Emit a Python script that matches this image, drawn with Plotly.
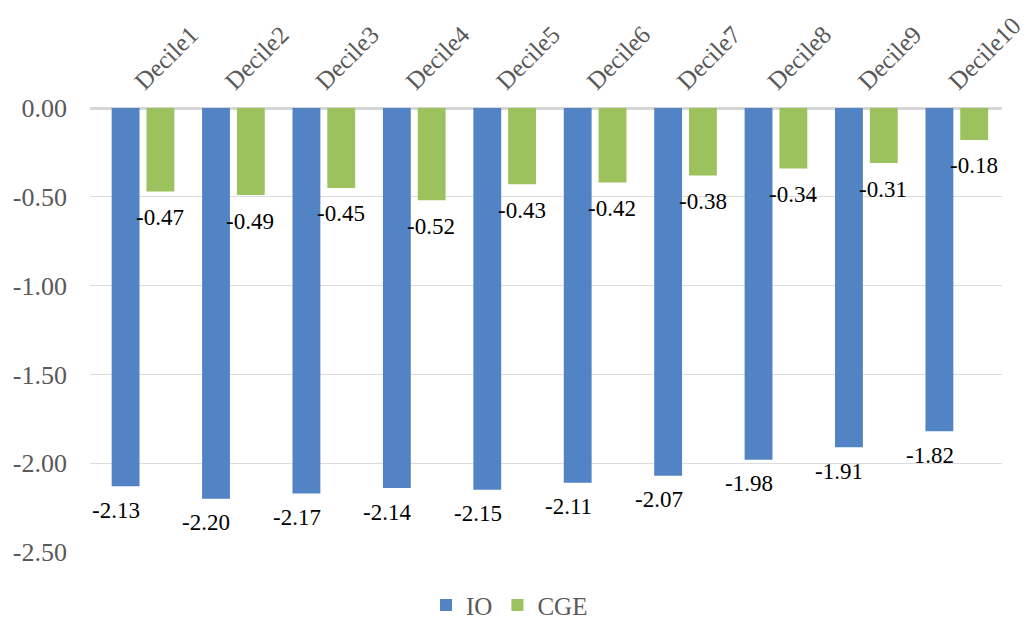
import plotly.graph_objects as go

categories = ["Decile1", "Decile2", "Decile3", "Decile4", "Decile5",
              "Decile6", "Decile7", "Decile8", "Decile9", "Decile10"]
io_values = [-2.13, -2.20, -2.17, -2.14, -2.15, -2.11, -2.07, -1.98, -1.91, -1.82]
cge_values = [-0.47, -0.49, -0.45, -0.52, -0.43, -0.42, -0.38, -0.34, -0.31, -0.18]
y_ticks = [0, -0.5, -1.0, -1.5, -2.0, -2.5]
y_tick_text = ["0.00", "-0.50", "-1.00", "-1.50", "-2.00", "-2.50"]

FONT = "Liberation Serif"

fig = go.Figure()
fig.add_trace(go.Bar(
    name="IO", x=categories, y=io_values,
    marker=dict(color="#5283C5", line=dict(width=0)),
))
fig.add_trace(go.Bar(
    name="CGE", x=categories, y=cge_values,
    marker=dict(color="#9BC25C", line=dict(width=0)),
))

for cat, v in zip(categories, io_values):
    fig.add_annotation(x=cat, y=v, xref="x", yref="y", text=f"{v:.2f}",
                       showarrow=False, xshift=-27, yshift=-24, yanchor="middle",
                       font=dict(family=FONT, size=23, color="#000000"))
for cat, v in zip(categories, cge_values):
    fig.add_annotation(x=cat, y=v, xref="x", yref="y", text=f"{v:.2f}",
                       showarrow=False, xshift=17, yshift=-26, yanchor="middle",
                       font=dict(family=FONT, size=23, color="#000000"))

fig.update_layout(
    width=1033, height=622,
    margin=dict(l=90, r=31, t=108, b=70, autoexpand=False),
    paper_bgcolor="white", plot_bgcolor="white",
    barmode="group", bargap=0.23, bargroupgap=0.2,
    font=dict(family=FONT, color="#595959"),
    showlegend=True,
    legend=dict(orientation="h", x=0.46, xanchor="center", y=-0.12, yanchor="middle",
                font=dict(family=FONT, size=25, color="#595959"),
                itemwidth=30, traceorder="normal"),
)
fig.update_xaxes(side="top", tickangle=-45, tickfont=dict(family=FONT, size=25, color="#595959"),
                 showgrid=False, showline=False, ticks="", ticklabelstandoff=7,
                 ticklabelshift=-7, automargin=False)
fig.update_yaxes(range=[-2.5, 0], tickvals=y_ticks, ticktext=y_tick_text,
                 tickfont=dict(family=FONT, size=26, color="#595959"),
                 showgrid=True, gridcolor="#DCDCDC", gridwidth=1.3,
                 zeroline=True, zerolinecolor="#D6D6D6", zerolinewidth=3,
                 showline=False, ticks="", ticklabelstandoff=22, automargin=False)

fig.write_html("out.html")
